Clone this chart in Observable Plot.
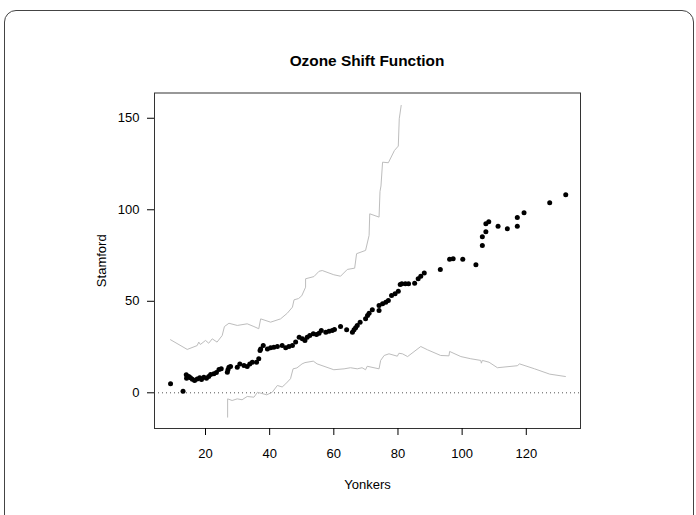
<!DOCTYPE html>
<html><head><meta charset="utf-8">
<script src="https://cdn.jsdelivr.net/npm/d3@7"></script>
<script src="https://cdn.jsdelivr.net/npm/@observablehq/plot@0.6"></script>
<style>
body{margin:0;background:#fff;}
#wrap{position:relative;width:696px;height:515px;overflow:hidden;font-family:"Liberation Sans",Arial,sans-serif;}
#frame{position:absolute;left:4px;top:10px;width:690px;height:580px;border:1px solid #444;border-radius:12px;box-sizing:border-box;}
#title{position:absolute;left:154px;width:426px;top:52px;text-align:center;font-weight:bold;font-size:15.4px;}
#chart{position:absolute;left:0;top:0;}
</style></head>
<body><div id="wrap"><div id="frame"></div><div id="title">Ozone Shift Function</div><div id="chart"></div></div>
<script>
const titleText = "Ozone Shift Function";
const xLabel = "Yonkers";
const yLabel = "Stamford";
const xTicks = [20, 40, 60, 80, 100, 120];
const yTicks = [0, 50, 100, 150];

// shift-function points (Yonkers quantile, Stamford shift)
const pointX = [9.1,13.0,14.0,14.1,14.8,15.3,15.9,16.6,17.4,18.2,18.75,19.5,20.3,21.0,21.6,22.6,23.4,24.2,24.9,26.8,27.0,27.3,27.8,29.9,30.7,32,33,33.8,34.6,35.9,36.6,37.0,37.2,38.0,39.3,40.3,41.3,42.4,43.9,45,46,47.1,48.1,49.2,50.2,51,51.7,52.5,53.6,54.6,55.4,56.1,57.5,58.5,59.5,60.2,62.1,64,65.8,66.3,66.8,67.3,68.2,69.9,70.5,71,72,74.1,74.1,75.2,76.2,77,78,79.1,80.1,80.7,81.2,82.3,83.3,85.2,86.3,87.1,88.2,93.2,96.1,97.2,100.2,104.3,106.3,106.3,107.4,107.4,108.3,111.2,114.1,117.2,117.2,119.3,127.3,132.3];
const pointY = [4.9,0.9,9.8,8.0,8.9,8.2,7.4,6.7,7.6,8.2,7.3,8.5,8.0,8.9,10.0,10.4,11.1,12.7,13.1,11.3,12.6,14.0,14.4,14.0,15.8,14.9,14.4,15.8,16.7,16.7,18.6,23.1,24.0,25.8,24.0,24.6,24.9,25.3,25.8,24.6,25.3,25.8,27.7,30.4,29.5,28.6,30.4,31.3,32.2,31.9,32.6,34.0,33.1,33.7,34.0,34.6,36.2,34.4,33.1,34.4,35.5,36.8,38.6,40.4,42.2,43.5,45.4,45.0,47.7,48.6,49.5,50.4,53.2,54.1,55.5,59.2,59.6,59.6,59.6,59.9,62.3,63.7,65.4,67.4,73.0,73.2,73.0,69.9,80.5,85.2,88,92.3,93.4,91.0,89.6,91.0,95.8,98.4,103.8,108.2];

// upper band
const upperX = [9.1,14.3,17.4,17.9,18.4,20,21,22.1,23.6,25.2,25.9,27.3,29.9,33,35.1,36.6,37.2,40.3,43.4,45.5,47.1,47.6,49,50,51.2,51.2,53.8,55.4,56.4,60,62.1,64.2,66.5,67.1,69.9,71,71.2,74.1,74.4,74.7,75.2,77,78.9,80.1,80.4,81];
const upperY = [29.0,23.7,25.8,27.7,26.4,28.6,27.1,29.5,27.7,31.3,36.2,38.0,36.8,37.7,36.2,35,40.4,38.6,40.4,43.5,46.8,50.8,51.5,53,57.7,62.3,63.5,66.4,66.8,64.5,63.7,67.4,68.1,76,77.8,86,97.8,96,110,113,126,125.7,132.4,134.8,149.7,157];

// lower band
const lowerX = [26.9,26.9,28.3,29.9,31.4,33,35.1,36.2,39.1,40.8,42.4,43.9,45,46.5,47.3,48.5,50.1,51,53.6,54.8,60,63.2,65.2,67.3,68.8,69.9,70.4,74.1,74.6,75.7,77.2,79.8,80.3,81.4,83,87.1,89.2,93.3,95.9,96.1,99.6,102.7,105.8,106,106.3,108.4,111,117.2,117.9,122.6,127.3,132.2];
const lowerY = [-13.3,-3.3,-4.2,-3.3,-3.8,-2,-2.4,0.3,-1.1,0.3,4,3.2,4.9,7.7,13.1,13.6,15.8,16.5,17.3,15.8,12.6,13.1,13.7,13.1,13.7,12.6,14.5,13.1,17.7,20.4,21.3,20,21.6,21.3,19.8,25.3,23.5,20.4,20.2,22.6,19.8,18.6,17.7,16.2,17.7,16.7,13.7,14.8,15.8,13.1,10.2,8.9];

const points = pointX.map((x, i) => ({x, y: pointY[i]}));
const upper = upperX.map((x, i) => ({x, y: upperY[i]}));
const lower = lowerX.map((x, i) => ({x, y: lowerY[i]}));

document.getElementById("title").textContent = titleText;

const chart = Plot.plot({
  width: 696, height: 515,
  marginLeft: 154, marginRight: 116, marginTop: 92.5, marginBottom: 87,
  style: {fontFamily: "Liberation Sans, Arial, sans-serif", fontSize: "13px", color: "#000", background: "transparent", overflow: "visible"},
  x: {domain: [4.1, 136.9]},
  y: {domain: [-19.5, 163.8]},
  marks: [
    Plot.ruleY([0], {stroke: "#555", strokeDasharray: "1,3"}),
    Plot.line(upper, {x: "x", y: "y", stroke: "#bdbdbd", strokeWidth: 1}),
    Plot.line(lower, {x: "x", y: "y", stroke: "#bdbdbd", strokeWidth: 1}),
    Plot.dot(points, {x: "x", y: "y", r: 2.5, fill: "#000", stroke: null}),
    Plot.frame({stroke: "#333"}),
    Plot.axisX({ticks: xTicks, tickSize: 7, tickPadding: 13, label: xLabel, labelAnchor: "center", labelOffset: 60, labelArrow: "none"}),
    Plot.axisY({ticks: yTicks, tickSize: 7, tickPadding: 8, label: yLabel, labelAnchor: "center", labelOffset: 58, labelArrow: "none"})
  ]
});
document.getElementById("chart").appendChild(chart);
</script></body></html>
